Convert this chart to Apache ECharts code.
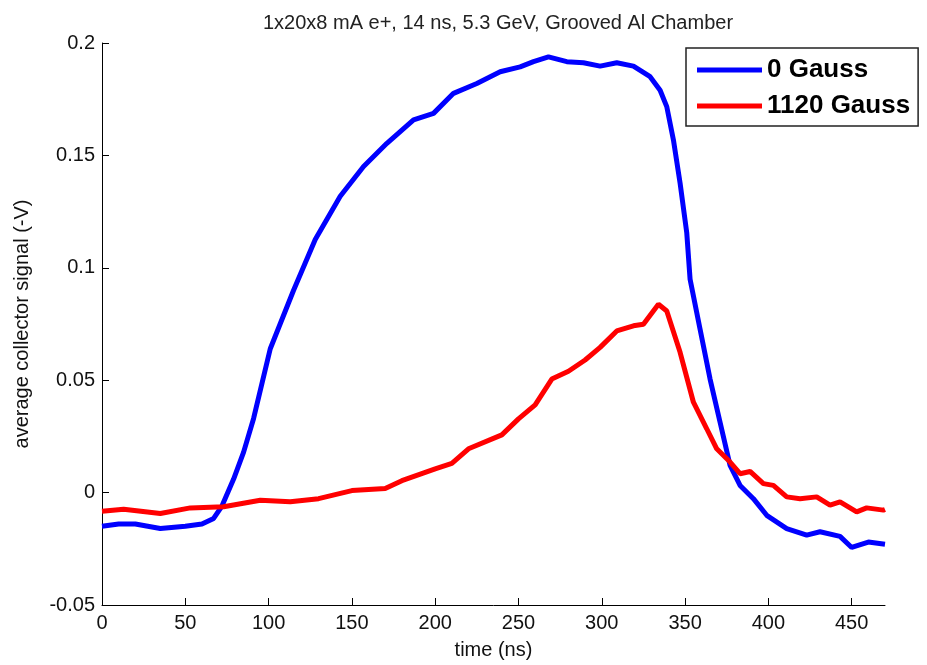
<!DOCTYPE html>
<html><head><meta charset="utf-8">
<script src="https://cdn.jsdelivr.net/npm/echarts@6/dist/echarts.min.js"></script>
<style>html,body{margin:0;padding:0;background:#fff}#c{width:927px;height:665px}</style>
</head><body><div id="c"></div>
<script>
const titleText = '1x20x8 mA e+, 14 ns, 5.3 GeV, Grooved Al Chamber';
const xTicks = [0,50,100,150,200,250,300,350,400,450];
const yTicks = [-0.05,0,0.05,0.1,0.15,0.2];
const seriesNames = ['0 Gauss','1120 Gauss'];
const blueTime = [0,10,20,35,50,60,67,72,79,85,91,101,115,128,143,157,171,187,199,211,225,239,251,259,268,279,289,299,309,319,329,335,339,343,347,351,353,359,365,371,377,383,391,399,411,423,431,443,450,460,470];
const blueSignal = [-0.015,-0.014,-0.014,-0.016,-0.015,-0.014,-0.0115,-0.006,0.006,0.018,0.033,0.064,0.090,0.1126,0.1318,0.1451,0.1554,0.1658,0.1687,0.1776,0.182,0.1872,0.1894,0.1917,0.1938,0.1917,0.1912,0.1897,0.1912,0.1897,0.185,0.179,0.1717,0.1569,0.1377,0.1156,0.0949,0.0727,0.0505,0.0313,0.0121,0.0032,-0.0027,-0.0101,-0.016,-0.0189,-0.0174,-0.0195,-0.0244,-0.022,-0.023];
const redTime = [0,13,35,53,73,95,113,130,150,170,180,200,210,220,240,250,260,270,280,290,299,309,319,325,334,339,347,355,363,369,377,383,389,397,403,411,419,429,437,443,453,459,469,470];
const redSignal = [-0.0083,-0.0074,-0.0093,-0.0068,-0.0063,-0.0034,-0.0041,-0.0027,0.0009,0.0018,0.0053,0.0106,0.013,0.0195,0.0257,0.0328,0.039,0.0505,0.054,0.059,0.0646,0.0719,0.0742,0.0749,0.0838,0.0808,0.0624,0.0402,0.0284,0.0195,0.0136,0.0084,0.0094,0.004,0.0032,-0.0019,-0.0027,-0.0019,-0.0056,-0.0041,-0.0086,-0.0068,-0.0078,-0.0075];

const font = 'Liberation Sans, Arial, sans-serif';
const chart = echarts.init(document.getElementById('c'));
chart.setOption({
  animation:false,
  backgroundColor:'#fff',
  title:{text:titleText,left:493,textAlign:'center',top:8,textStyle:{fontFamily:font,fontSize:20,fontWeight:'normal',color:'#222'}},
  grid:{left:102,right:42,top:43,bottom:58},
  legend:{orient:'vertical',left:686,top:48,padding:[9,8,7,11],itemGap:10,
    itemWidth:65,itemHeight:5,icon:'rect',borderColor:'#222',borderWidth:1.5,backgroundColor:'#fff',
    textStyle:{fontFamily:font,fontSize:26,fontWeight:'bold',color:'#000'},data:seriesNames},
  xAxis:{type:'value',min:0,max:470,interval:50,name:'time (ns)',nameLocation:'middle',nameGap:35,
    nameTextStyle:{fontFamily:font,fontSize:20,color:'#111'},
    axisLine:{onZero:false,lineStyle:{color:'#000',width:1}},splitLine:{show:false},
    axisTick:{inside:true,length:7,lineStyle:{color:'#000'},customValues:xTicks},
    axisLabel:{fontFamily:font,fontSize:20,color:'#111',margin:8,customValues:xTicks}},
  yAxis:{type:'value',min:-0.05,max:0.2,interval:0.05,name:'average collector signal (-V)',nameLocation:'middle',nameGap:70,
    nameTextStyle:{fontFamily:font,fontSize:20,color:'#111'},
    axisLine:{show:true,onZero:false,lineStyle:{color:'#000',width:1}},splitLine:{show:false},
    axisTick:{show:true,inside:true,length:7,lineStyle:{color:'#000'},customValues:yTicks},
    axisLabel:{fontFamily:font,fontSize:20,color:'#111',margin:7,customValues:yTicks,formatter:v=>String(Math.round(v*100)/100)}},
  series:[
    {name:seriesNames[0],type:'line',showSymbol:false,color:'#0000ff',lineStyle:{width:5,color:'#0000ff'},
     data:blueTime.map((t,i)=>[t,blueSignal[i]])},
    {name:seriesNames[1],type:'line',showSymbol:false,color:'#ff0000',lineStyle:{width:5,color:'#ff0000'},
     data:redTime.map((t,i)=>[t,redSignal[i]])}
  ]
});
</script></body></html>
